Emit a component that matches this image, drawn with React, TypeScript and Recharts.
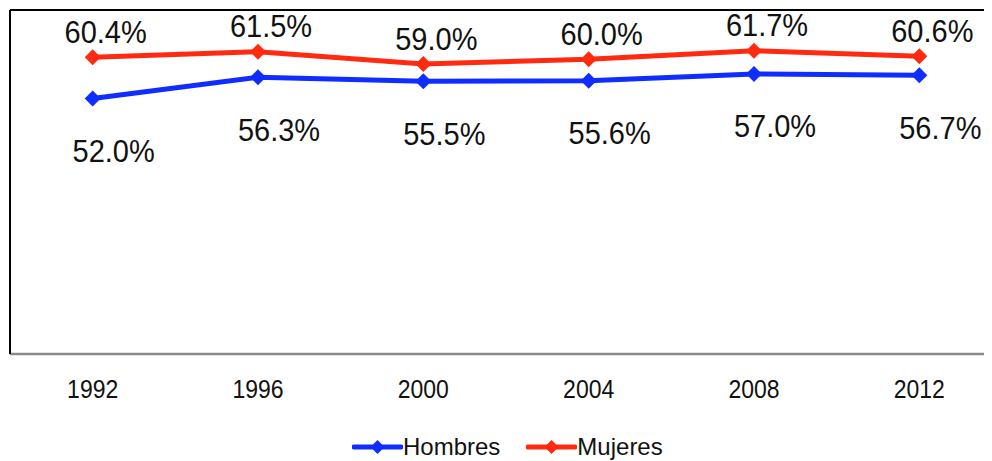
import React from 'react';
import { LineChart, Line, XAxis, YAxis, ReferenceLine, Legend } from 'recharts';

const years = ['1992', '1996', '2000', '2004', '2008', '2012'];
const hombres = [52.0, 56.3, 55.5, 55.6, 57.0, 56.7];
const mujeres = [60.4, 61.5, 59.0, 60.0, 61.7, 60.6];

const data = years.map((y, i) => ({ year: y, hombres: hombres[i], mujeres: mujeres[i] }));

const BLUE = '#0f2dff';
const RED = '#ff2a10';
const FONT = '"Liberation Sans", Arial, sans-serif';

const Diamond = (color: string) => (props: any) => {
  const { cx, cy, index } = props;
  if (cx == null || cy == null) return null;
  const r = 8;
  return (
    <polygon
      key={`d-${index}`}
      points={`${cx},${cy - r} ${cx + r},${cy} ${cx},${cy + r} ${cx - r},${cy}`}
      fill={color}
    />
  );
};

const makeLabel = (dx: number, dy: number) => (props: any) => {
  const { x, y, value, index } = props;
  return (
    <text
      key={`l-${index}`}
      transform={`translate(${x + dx},${y + dy}) scale(1,1.1)`}
      textAnchor="middle"
      dominantBaseline="central"
      fontSize={29}
      fontFamily={FONT}
      fill="#111"
    >
      {`${Number(value).toFixed(1)}%`}
    </text>
  );
};

const YearTick = (props: any) => {
  const { x, y, payload } = props;
  return (
    <text
      transform={`translate(${x},${y + 27}) scale(1,1.15)`}
      textAnchor="middle"
      dominantBaseline="central"
      fontSize={23}
      fontFamily={FONT}
      fill="#111"
    >
      {payload.value}
    </text>
  );
};

const LegendContent = () => {
  const items = [
    { name: 'Hombres', color: BLUE },
    { name: 'Mujeres', color: RED },
  ];
  return (
    <div style={{ display: 'flex', alignItems: 'center', fontFamily: FONT, fontSize: 24, color: '#111' }}>
      {items.map((it, i) => (
        <div key={it.name} style={{ display: 'flex', alignItems: 'center', marginLeft: i ? 26 : 0 }}>
          <svg width={51} height={16}>
            <line x1={2} y1={8} x2={49} y2={8} stroke={it.color} strokeWidth={5} strokeLinecap="round" />
            <polygon points="25.5,1 32.5,8 25.5,15 18.5,8" fill={it.color} />
          </svg>
          <span>{it.name}</span>
        </div>
      ))}
    </div>
  );
};

export default function App() {
  return (
    <div style={{ width: 984, height: 453, overflow: 'hidden', position: 'relative' }}>
      <LineChart
        width={1000}
        height={453}
        data={data}
        margin={{ top: 2, left: 0, right: 6, bottom: 77 }}
      >
        <XAxis
          dataKey="year"
          height={30}
          tickLine={false}
          axisLine={{ stroke: '#8a8a8a', strokeWidth: 2.5 }}
          tick={<YearTick />}
          interval={0}
          padding={{ left: 82.67, right: 82.67 }}
        />
        <YAxis
          width={2}
          domain={[0, 70]}
          ticks={[0, 70]}
          tick={false}
          tickLine={false}
          axisLine={{ stroke: '#000', strokeWidth: 2 }}
        />
        <ReferenceLine y={70} stroke="#000" strokeWidth={2} />
        <Legend
          layout="vertical"
          align="center"
          verticalAlign="middle"
          content={<LegendContent />}
          wrapperStyle={{ position: 'absolute', top: 425, left: 344, width: 'auto' }}
        />
        <Line
          dataKey="hombres"
          name="Hombres"
          stroke={BLUE}
          strokeWidth={5}
          dot={Diamond(BLUE)}
          activeDot={false}
          isAnimationActive={false}
          label={makeLabel(21, 52)}
        />
        <Line
          dataKey="mujeres"
          name="Mujeres"
          stroke={RED}
          strokeWidth={5}
          dot={Diamond(RED)}
          activeDot={false}
          isAnimationActive={false}
          label={makeLabel(13, -26)}
        />
      </LineChart>
    </div>
  );
}
